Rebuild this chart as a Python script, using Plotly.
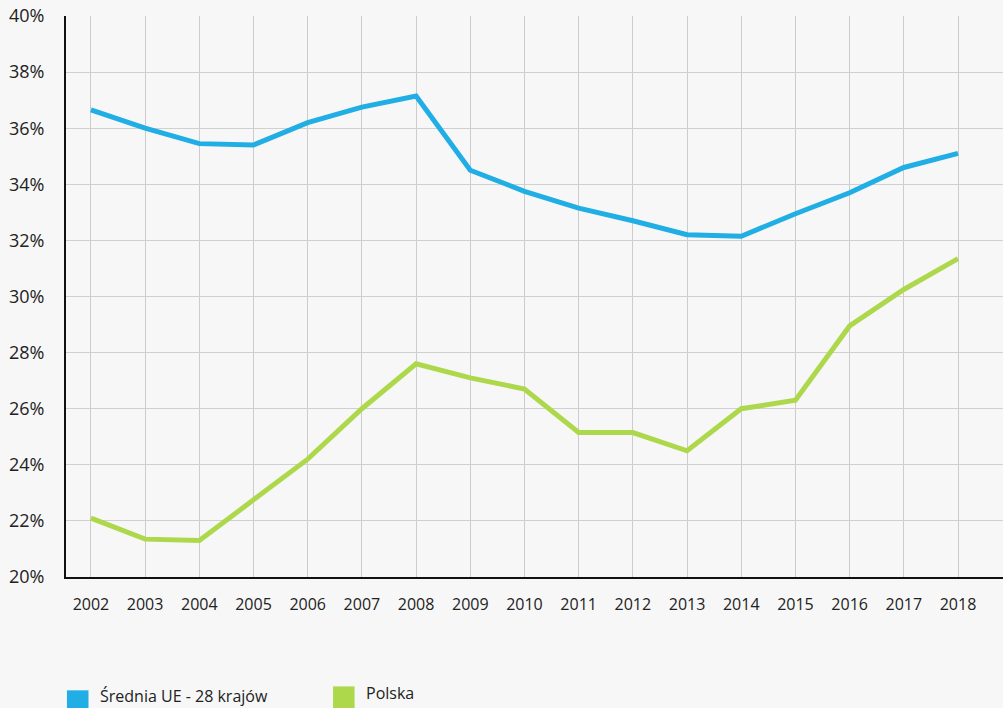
import plotly.graph_objects as go

years = list(range(2002, 2019))
ue28 = [36.65, 36.0, 35.45, 35.4, 36.2, 36.75, 37.15, 34.5, 33.75, 33.15,
        32.7, 32.2, 32.15, 32.95, 33.7, 34.6, 35.1]
polska = [22.1, 21.35, 21.3, 22.75, 24.2, 26.0, 27.6, 27.1, 26.7, 25.15,
          25.15, 24.5, 26.0, 26.3, 28.95, 30.25, 31.35]
y_ticks = list(range(20, 41, 2))

blue = '#20AEE5'
green = '#AED84C'
font_family = 'Open Sans, Noto Sans, sans-serif'

fig = go.Figure()
fig.add_trace(go.Scatter(x=years, y=ue28, mode='lines', name='Średnia UE - 28 krajów',
                         line=dict(color=blue, width=5), showlegend=False))
fig.add_trace(go.Scatter(x=years, y=polska, mode='lines', name='Polska',
                         line=dict(color=green, width=5), showlegend=False))

# legend drawn by hand (squares + labels) at the bottom edge like the original
fig.add_shape(type='rect', xref='paper', yref='paper', x0=0.001, x1=0.024, y0=-0.235, y1=-0.202,
              fillcolor=blue, line_width=0)
fig.add_annotation(xref='paper', yref='paper', x=0.034, y=-0.212, text='Średnia UE - 28 krajów',
                   showarrow=False, xanchor='left', yanchor='middle',
                   font=dict(size=16, color='#222', family=font_family))
fig.add_shape(type='rect', xref='paper', yref='paper', x0=0.285, x1=0.308, y0=-0.235, y1=-0.195,
              fillcolor=green, line_width=0)
fig.add_annotation(xref='paper', yref='paper', x=0.318, y=-0.207, text='Polska',
                   showarrow=False, xanchor='left', yanchor='middle',
                   font=dict(size=16, color='#222', family=font_family))

fig.update_layout(
    width=1003, height=708,
    margin=dict(l=66, r=0, t=16, b=131),
    plot_bgcolor='#f7f7f7',
    paper_bgcolor='#f7f7f7',
    font=dict(family=font_family, color='#222'),
    xaxis=dict(range=[2001.54, 2018.83], tickvals=years, ticktext=[str(y) for y in years],
               showgrid=True, gridcolor='#cccccc', gridwidth=1.3,
               showline=True, linecolor='#111', linewidth=2, zeroline=False,
               ticks='', ticklabelstandoff=12, tickfont=dict(size=16)),
    yaxis=dict(range=[20, 40], tickvals=y_ticks, ticktext=[f'{v}%' for v in y_ticks],
               showgrid=True, gridcolor='#d0d0d0', gridwidth=1.3,
               showline=True, linecolor='#111', linewidth=2, zeroline=False,
               ticks='', ticklabelstandoff=16, tickfont=dict(size=18)),
)

fig.write_html("out.html", config={'displayModeBar': False},
               post_script="document.body.style.margin='0';document.body.style.background='#f7f7f7';")
